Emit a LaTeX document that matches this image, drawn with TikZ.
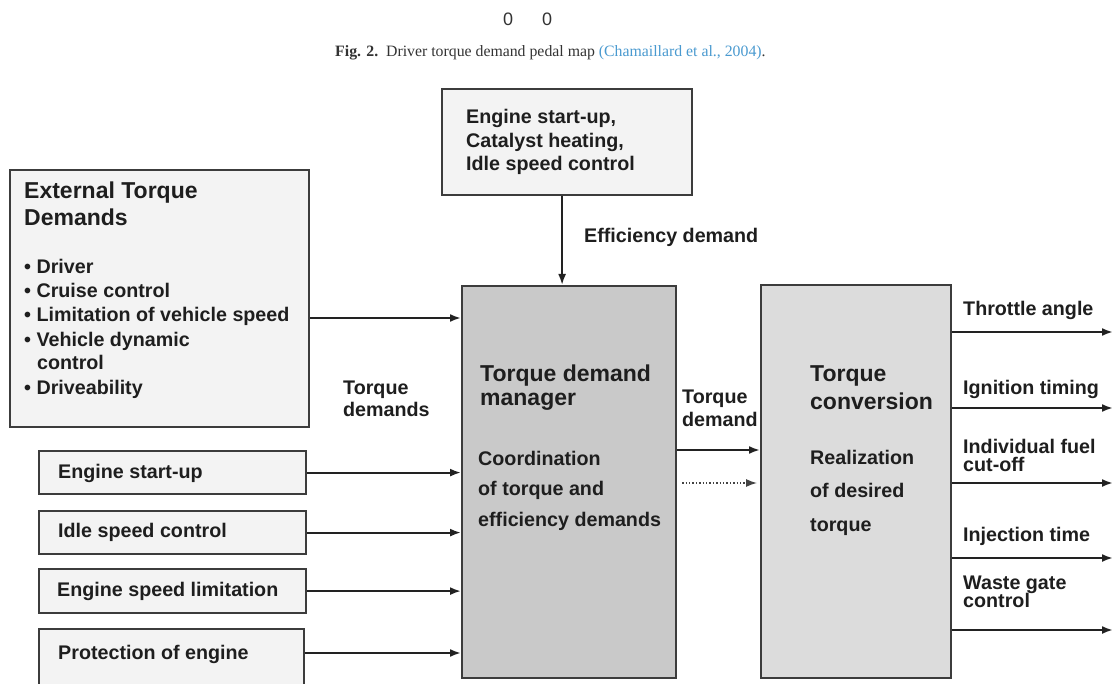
\documentclass[tikz,border=0pt]{standalone}
\usepackage{fontspec}
\setmainfont{Liberation Sans}
\newfontfamily\capfont{Liberation Serif}
\usetikzlibrary{arrows.meta}
\definecolor{bd}{HTML}{3C3C3C}
\definecolor{arrc}{HTML}{222222}
\definecolor{txtc}{HTML}{1E1E1E}
\definecolor{lightfill}{HTML}{F3F3F3}
\definecolor{mgrfill}{HTML}{C9C9C9}
\definecolor{convfill}{HTML}{DCDCDC}
\definecolor{capblue}{HTML}{4A9AD0}
\definecolor{captext}{HTML}{333333}
\begin{document}
\begin{tikzpicture}[x=1pt,y=-1pt,
  boxst/.style={draw=bd, line width=2.2pt, inner sep=0pt, anchor=north west},
  tx/.style={anchor=base west, inner sep=0pt, text=txtc, font=\fontsize{19.7}{22}\selectfont\bfseries},
  ttl/.style={anchor=base west, inner sep=0pt, text=txtc, font=\fontsize{23}{26}\selectfont\bfseries},
  arr/.style={draw=arrc, line width=2pt, -{Latex[length=11pt,width=8pt]}},
  dotarr/.style={draw=arrc!85, line width=1.4pt, dotted, -{Latex[length=11pt,width=8pt]}}]
\useasboundingbox (0,0) rectangle (1113,684);
\fill[white] (0,0) rectangle (1113,684);

% header
\node[inner sep=0pt, text=captext, font=\fontsize{18}{20}\selectfont] (z1) at (508,19) {0};
\node[inner sep=0pt, text=captext, font=\fontsize{18}{20}\selectfont] (z2) at (547,19) {0};
\node[anchor=base west, inner sep=0pt, text=captext, font=\capfont\fontsize{15.8}{18}\selectfont] (cap) at (335,57)
  {\textbf{Fig. 2.}\ \ Driver torque demand pedal map {\color{capblue}(Chamaillard et al., 2004)}.};

% boxes
\node[boxst, fill=lightfill, minimum width=250pt, minimum height=106pt] (tb) at (441,88) {};
\node[boxst, fill=lightfill, minimum width=299pt, minimum height=257pt] (ext) at (9,169) {};
\node[boxst, fill=lightfill, minimum width=267pt, minimum height=43pt] (es) at (38,450) {};
\node[boxst, fill=lightfill, minimum width=267pt, minimum height=43pt] (isc) at (38,510) {};
\node[boxst, fill=lightfill, minimum width=267pt, minimum height=44pt] (esl) at (38,568) {};
\node[boxst, fill=lightfill, minimum width=265pt, minimum height=70pt] (pe) at (38,628) {};
\node[boxst, fill=mgrfill, minimum width=214pt, minimum height=392pt] (mgr) at (461,285) {};
\node[boxst, fill=convfill, minimum width=190pt, minimum height=393pt] (tc) at (760,284) {};

% top box text
\node[tx] (tb1) at (466,124) {Engine start-up,};
\node[tx] (tb2) at (466,148) {Catalyst heating,};
\node[tx] (tb3) at (466,171) {Idle speed control};
\node[tx] (eff) at (584,243) {Efficiency demand};

% external box text
\node[ttl] (ext1) at (24,199) {External Torque};
\node[ttl] (ext2) at (24,226) {Demands};
\node[tx] (b1) at (24,274) {\textbullet\ Driver};
\node[tx] (b2) at (24,298) {\textbullet\ Cruise control};
\node[tx] (b3) at (24,322) {\textbullet\ Limitation of vehicle speed};
\node[tx] (b4) at (24,346) {\textbullet\ Vehicle dynamic};
\node[tx] (b5) at (37,369) {control};
\node[tx] (b6) at (24,394) {\textbullet\ Driveability};

\node[tx] (td1) at (343,394) {Torque};
\node[tx] (td2) at (343,416) {demands};

% small boxes text
\node[tx] (est) at (58,478) {Engine start-up};
\node[tx] (isct) at (58,537) {Idle speed control};
\node[tx] (eslt) at (57,596) {Engine speed limitation};
\node[tx] (pet) at (58,659) {Protection of engine};

% manager text
\node[ttl] (m1) at (480,381) {Torque demand};
\node[ttl] (m2) at (480,405) {manager};
\node[tx] (m3) at (478,465) {Coordination};
\node[tx] (m4) at (478,495) {of torque and};
\node[tx] (m5) at (478,526) {efficiency demands};

\node[tx] (tq1) at (682,403) {Torque};
\node[tx] (tq2) at (682,426) {demand};

% conversion text
\node[ttl] (c1) at (810,381) {Torque};
\node[ttl] (c2) at (810,409) {conversion};
\node[tx] (c3) at (810,464) {Realization};
\node[tx] (c4) at (810,497) {of desired};
\node[tx] (c5) at (810,531) {torque};

% output labels
\node[tx] (o1t) at (963,316) {Throttle angle};
\node[tx] (o2t) at (963,394) {Ignition timing};
\node[tx] (o3t) at (963,453) {Individual fuel};
\node[tx] (o3u) at (963,471) {cut-off};
\node[tx] (o4t) at (963,541) {Injection time};
\node[tx] (o5t) at (963,589) {Waste gate};
\node[tx] (o5u) at (963,607) {control};

% output ends
\coordinate (o1) at (1113,332);
\coordinate (o2) at (1113,408);
\coordinate (o3) at (1113,483);
\coordinate (o4) at (1113,558);
\coordinate (o5) at (1113,630);

% connectors
\draw[arr] ([xshift=-5pt]tb.south) -- ([xshift=-5pt]tb.south |- mgr.north);
\draw[arr] (ext.east |- 0,318) -- (mgr.west |- 0,318);
\draw[arr] (es.east) -- (es.east -| mgr.west);
\draw[arr] (isc.east) -- (isc.east -| mgr.west);
\draw[arr] (esl.east) -- (esl.east -| mgr.west);
\draw[arr] (pe.east |- 0,653) -- (mgr.west |- 0,653);
\draw[arr] (mgr.east |- 0,450) -- (tc.west |- 0,450);
\draw[dotarr] ([xshift=5pt]mgr.east |- 0,483) -- ([xshift=-3pt]tc.west |- 0,483);
\draw[arr] (tc.east |- o1) -- (o1);
\draw[arr] (tc.east |- o2) -- (o2);
\draw[arr] (tc.east |- o3) -- (o3);
\draw[arr] (tc.east |- o4) -- (o4);
\draw[arr] (tc.east |- o5) -- (o5);
\end{tikzpicture}
\end{document}
